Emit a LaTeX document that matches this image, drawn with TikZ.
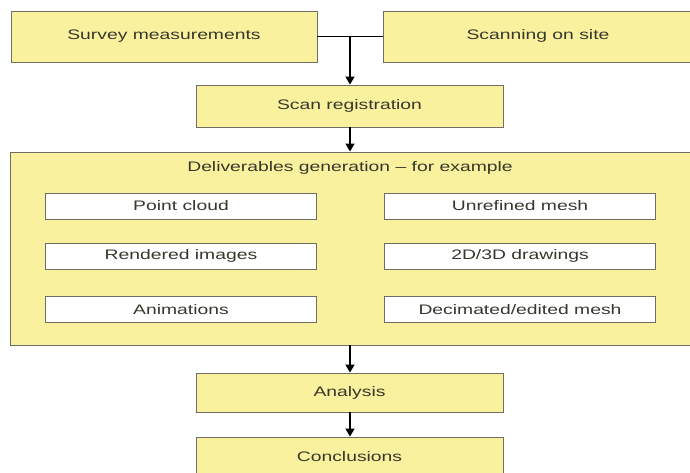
\documentclass[tikz,border=0pt]{standalone}
\usepackage{fontspec}
\setmainfont{Liberation Sans}[FakeStretch=1.4]
\usetikzlibrary{arrows.meta}
\definecolor{boxfill}{RGB}{250,241,158}
\definecolor{boxline}{RGB}{110,110,100}
\definecolor{txt}{RGB}{55,55,45}
\begin{document}
\begin{tikzpicture}[x=1pt,y=-1pt,
  base/.style={draw=boxline,line width=0.9pt,inner sep=0pt,text=txt,
    font=\fontsize{13.8}{16}\selectfont},
  ybox/.style={base,fill=boxfill},
  wbox/.style={base,fill=white,minimum width=271pt,minimum height=26pt},
  conn/.style={line width=1.5pt,black},
  arr/.style={conn,-{Triangle[width=9pt,length=8pt]}}]
\useasboundingbox (0,0) rectangle (690,472);
\clip (0,0) rectangle (690,472);
\fill[white] (0,0) rectangle (690,472);
\node[ybox,minimum width=306pt,minimum height=51pt] (survey) at (164,36.5) {Survey measurements};
\node[ybox,minimum width=330pt,minimum height=51pt] (scan) at (548,36.5) {};
\node[text=txt,font=\fontsize{13.8}{16}\selectfont,inner sep=0pt] (scantxt) at (538,35.5) {Scanning on site};
\node[ybox,minimum width=307pt,minimum height=42pt] (reg) at (349.5,106) {Scan registration};
\node[ybox,minimum width=710pt,minimum height=193pt] (big) at (365,248.5) {};
\node[text=txt,font=\fontsize{13.8}{16}\selectfont,inner sep=0pt] (title) at (350,168) {Deliverables generation -- for example};
\node[wbox] (pc) at (181,206) {Point cloud};
\node[wbox] (um) at (520,206) {Unrefined mesh};
\node[wbox] (ri) at (181,256) {Rendered images};
\node[wbox] (dd) at (520,256) {2D/3D drawings};
\node[wbox] (an) at (181,309.5) {Animations};
\node[wbox] (dm) at (520,309.5) {Decimated/edited mesh};
\node[ybox,minimum width=307pt,minimum height=39pt] (analysis) at (349.5,392.5) {Analysis};
\node[ybox,minimum width=307pt,minimum height=39pt] (concl) at (349.5,456.5) {Conclusions};
\coordinate (junc) at (350,36.5);
\draw[conn] (survey.east) -- (scan.west);
\draw[arr] (junc) -- (junc |- reg.north);
\draw[arr] (junc |- reg.south) -- (junc |- big.north);
\draw[arr] (junc |- big.south) -- (junc |- analysis.north);
\draw[arr] (junc |- analysis.south) -- (junc |- concl.north);
\end{tikzpicture}
\end{document}
